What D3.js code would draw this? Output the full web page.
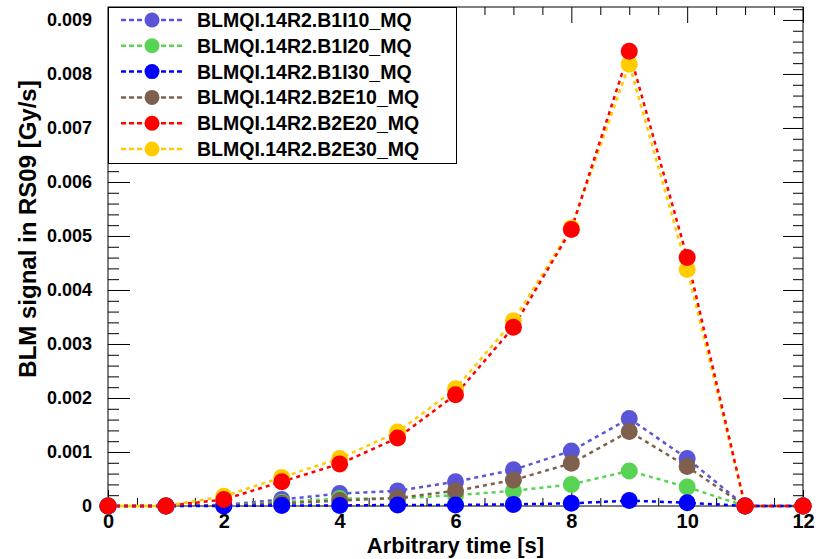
<!DOCTYPE html>
<html>
<head>
<meta charset="utf-8">
<script src="https://cdn.jsdelivr.net/npm/d3@7"></script>
<style>
  body { margin: 0; background: #fff; }
  text { font-family: "Liberation Sans", Arial, sans-serif; font-weight: bold; fill: #000; }
</style>
</head>
<body>
<script>
const WIDTH = 823;
const HEIGHT = 559;
const LEFT = 108, RIGHT = 803, TOP = 7, BOTTOM = 506;
const RAYON = 8.5;

// data
const TIMES = [0, 1, 2, 3, 4, 5, 6, 7, 8, 9, 10, 11, 12];
const NAMES = ["BLMQI.14R2.B1I10_MQ", "BLMQI.14R2.B1I20_MQ", "BLMQI.14R2.B1I30_MQ",
               "BLMQI.14R2.B2E10_MQ", "BLMQI.14R2.B2E20_MQ", "BLMQI.14R2.B2E30_MQ"];
const COLORS = ["#5954d8", "#59d354", "#0000ff", "#7f5f4e", "#ff0000", "#ffcc00"];
const B1I10 = [0, 0, 0.00002, 0.00012, 0.00023, 0.00028, 0.00045, 0.00067, 0.00102, 0.00162, 0.00088, 0, 0];
const B1I20 = [0, 0, 0.00001, 0.00007, 0.00014, 0.00014, 0.0002, 0.00028, 0.0004, 0.00065, 0.00035, 0, 0];
const B1I30 = [0, 0, 0, 0.00001, 0.00001, 0.00002, 0.00002, 0.00003, 0.00005, 0.0001, 0.00006, 0, 0];
const B2E10 = [0, 0, 0.00001, 0.00005, 0.0001, 0.00015, 0.00028, 0.00048, 0.00079, 0.00138, 0.00073, 0, 0];
const B2E20 = [0, 0, 0.00012, 0.00045, 0.00078, 0.00126, 0.00206, 0.00331, 0.00512, 0.00842, 0.0046, 0, 0];
const B2E30 = [0, 0, 0.00018, 0.00053, 0.00088, 0.00137, 0.00217, 0.00343, 0.00515, 0.00818, 0.00438, 0, 0];
const SERIES = [B1I10, B1I20, B1I30, B2E10, B2E20, B2E30];
const DRAW_ORDER = [0, 1, 3, 5, 2, 4];

const X_TICKS = [0, 2, 4, 6, 8, 10, 12];
const Y_TICKS = [0, 0.001, 0.002, 0.003, 0.004, 0.005, 0.006, 0.007, 0.008, 0.009];
const Y_LABELS = ["0", "0.001", "0.002", "0.003", "0.004", "0.005", "0.006", "0.007", "0.008", "0.009"];

const svg = d3.select("body").append("svg")
  .attr("width", WIDTH).attr("height", HEIGHT)
  .style("background", "#fff");

const xScale = d3.scaleLinear().domain([0, 12]).range([LEFT, RIGHT]);
const yScale = d3.scaleLinear().domain([0, 0.00924]).range([BOTTOM, TOP]);

const xMinor = d3.range(0, 12.01, 0.5).filter(v => v % 2 !== 0);
const yMinor = d3.range(0, 0.00921, 0.0002).filter(v => Math.abs(v * 1000 - Math.round(v * 1000)) > 1e-6);

const axes = () => {
  const add = (axis, tr) => {
    const g = svg.append("g").attr("transform", tr).call(axis);
    g.select(".domain").remove();
    g.selectAll("line").attr("stroke", "#000");
    return g;
  };
  // major + minor ticks on all four sides, pointing inwards
  add(d3.axisLeft(yScale).tickValues(Y_TICKS).tickSize(-22).tickPadding(16)
        .tickFormat((d, i) => Y_LABELS[i]), `translate(${LEFT},0)`)
    .selectAll("text").style("font-size", "18px").attr("fill", "#000");
  add(d3.axisLeft(yScale).tickValues(yMinor).tickSize(-11).tickFormat(""), `translate(${LEFT},0)`);
  add(d3.axisRight(yScale).tickValues(Y_TICKS).tickSize(-20).tickFormat(""), `translate(${RIGHT},0)`);
  add(d3.axisRight(yScale).tickValues(yMinor).tickSize(-10).tickFormat(""), `translate(${RIGHT},0)`);

  add(d3.axisBottom(xScale).tickValues(X_TICKS).tickSize(-16).tickPadding(8)
        .tickFormat(d3.format("d")), `translate(0,${BOTTOM})`)
    .selectAll("text").style("font-size", "20px").attr("fill", "#000");
  add(d3.axisBottom(xScale).tickValues(xMinor).tickSize(-8).tickFormat(""), `translate(0,${BOTTOM})`);
  add(d3.axisTop(xScale).tickValues(X_TICKS).tickSize(-16).tickFormat(""), `translate(0,${TOP})`);
  add(d3.axisTop(xScale).tickValues(xMinor).tickSize(-8).tickFormat(""), `translate(0,${TOP})`);

  svg.append("rect")
    .attr("x", LEFT).attr("y", TOP)
    .attr("width", RIGHT - LEFT).attr("height", BOTTOM - TOP)
    .attr("fill", "none").attr("stroke", "#000").attr("stroke-width", 1);

  svg.append("text")
    .attr("x", (LEFT + RIGHT) / 2).attr("y", 553)
    .attr("text-anchor", "middle")
    .style("font-size", "22px")
    .text("Arbitrary time [s]");

  svg.append("text")
    .attr("transform", "translate(36,229) rotate(-90)")
    .attr("text-anchor", "middle")
    .style("font-size", "24px")
    .text("BLM signal in RS09 [Gy/s]");
};

const renderSeries = () => {
  const line = d3.line().x((d, i) => xScale(TIMES[i])).y(d => yScale(d));
  DRAW_ORDER.forEach(k => {
    svg.append("path")
      .attr("d", line(SERIES[k]))
      .attr("fill", "none")
      .attr("stroke", COLORS[k])
      .attr("stroke-width", 2.5)
      .attr("stroke-dasharray", "4,4")
      .attr("stroke-dashoffset", k === 5 ? 4 : 0);
  });
  DRAW_ORDER.forEach(k => {
    svg.append("g").selectAll("circle")
      .data(SERIES[k])
      .enter().append("circle")
      .attr("cx", (d, i) => xScale(TIMES[i]))
      .attr("cy", d => yScale(d))
      .attr("r", RAYON)
      .attr("fill", COLORS[k]);
  });
};

const legend = () => {
  const g = svg.append("g");
  g.append("rect")
    .attr("x", 108.5).attr("y", 7.5).attr("width", 348).attr("height", 156)
    .attr("fill", "#fff").attr("stroke", "#000");
  NAMES.forEach((name, i) => {
    const y = 20 + i * 25.8;
    g.append("line")
      .attr("x1", 121).attr("x2", 183).attr("y1", y).attr("y2", y)
      .attr("stroke", COLORS[i]).attr("stroke-width", 2.5)
      .attr("stroke-dasharray", "5,3");
    g.append("circle")
      .attr("cx", 152).attr("cy", y).attr("r", 7.5)
      .attr("fill", COLORS[i]);
    g.append("text")
      .attr("x", 197).attr("y", y).attr("dy", "0.36em")
      .style("font-size", "19.5px")
      .text(name);
  });
};

axes();
renderSeries();
legend();
</script>
</body>
</html>
